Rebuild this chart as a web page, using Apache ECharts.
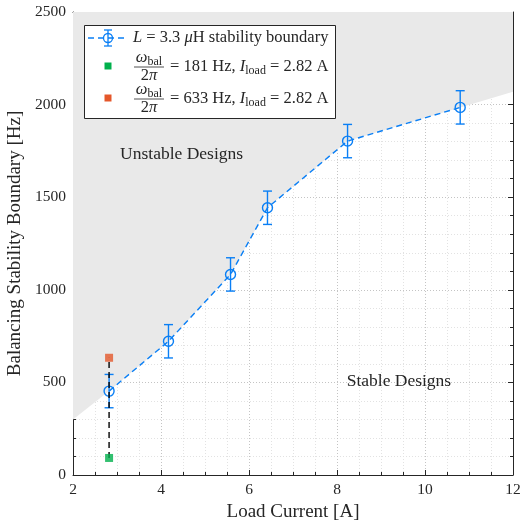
<!DOCTYPE html>
<html>
<head>
<meta charset="utf-8">
<script src="https://cdn.jsdelivr.net/npm/echarts@6.0.0/dist/echarts.min.js"></script>
<style>
  html, body { margin: 0; padding: 0; background: #fff; }
  #chart { width: 520px; height: 522px; }
</style>
</head>
<body>
<div id="chart"></div>
<script>
// measured boundary, L = 3.3 uH
var currentA = [2.82, 4.17, 5.58, 6.42, 8.24, 10.80];
var boundaryHz = [453, 722, 1083, 1443, 1803, 1985];
var errHz = [90, 90, 90, 90, 90, 90];

// shaded "unstable" region edge (extended to the axis limits)
var shadeX = [2, 2.82, 4.17, 5.58, 6.42, 8.24, 10.80, 12];
var shadeY = [300, 453, 722, 1083, 1443, 1803, 1985, 2070];

// the two test designs at I_load = 2.82 A
var testX = [2.82, 2.82];
var testHz = [92, 633];

var xTicks = [2, 4, 6, 8, 10, 12];
var yTicks = [0, 500, 1000, 1500, 2000, 2500];

var FONT = 'Liberation Serif';
var BLUE = '#0a7ff5';
var INK = '#262626';

var chart = echarts.init(document.getElementById('chart'));

var lineData = currentA.map(function (x, i) { return [x, boundaryHz[i]]; });
var errData = currentA.map(function (x, i) { return [x, boundaryHz[i], errHz[i]]; });
var shadeData = shadeX.map(function (x, i) { return [x, shadeY[i]]; });

function axisBase() {
  return {
    type: 'value',
    axisLine: { show: true, onZero: false, lineStyle: { color: INK, width: 1 } },
    axisTick: { show: true, inside: true, length: 5, lineStyle: { color: INK } },
    minorTick: { show: true, length: 3, lineStyle: { color: INK } },
    splitLine: { show: false },
    minorSplitLine: { show: false },
    axisLabel: { show: false }
  };
}

var xBottom = Object.assign(axisBase(), {
  position: 'bottom', min: xTicks[0], max: xTicks[xTicks.length - 1], interval: 2,
  minorTick: { show: true, splitNumber: 4, length: 3, lineStyle: { color: INK } },
  splitLine: { show: true, lineStyle: { color: '#c4c4c4', type: [1, 2] } },
  minorSplitLine: { show: true, lineStyle: { color: '#e2e2e2', type: [1, 2] } },
  axisLabel: { show: true, margin: 7, color: INK, fontFamily: FONT, fontSize: 15.5 },
  name: 'Load Current [A]', nameLocation: 'middle', nameGap: 25,
  nameTextStyle: { color: INK, fontFamily: FONT, fontSize: 19 }
});
var xTop = Object.assign(axisBase(), {
  position: 'top', min: 2, max: 12, interval: 2,
  minorTick: { show: true, splitNumber: 4, length: 3, lineStyle: { color: INK } }
});
var yLeft = Object.assign(axisBase(), {
  position: 'left', min: yTicks[0], max: yTicks[yTicks.length - 1], interval: 500,
  minorTick: { show: true, splitNumber: 5, length: 3, lineStyle: { color: INK } },
  splitLine: { show: true, lineStyle: { color: '#c4c4c4', type: [1, 2] } },
  minorSplitLine: { show: true, lineStyle: { color: '#e2e2e2', type: [1, 2] } },
  axisLabel: {
    show: true, margin: 7, color: INK, fontFamily: FONT, fontSize: 15.5,
    formatter: function (v) { return String(v); }
  },
  name: 'Balancing Stability Boundary [Hz]', nameLocation: 'middle', nameGap: 47,
  nameTextStyle: { color: INK, fontFamily: FONT, fontSize: 19 }
});
var yRight = Object.assign(axisBase(), {
  position: 'right', min: 0, max: 2500, interval: 500,
  minorTick: { show: true, splitNumber: 5, length: 3, lineStyle: { color: INK } }
});

// legend drawn by hand (fraction labels)
var txt = { fontFamily: FONT, fontSize: 16.5, fill: INK };
var rich = {
  it: { fontFamily: FONT, fontSize: 16.5, fontStyle: 'italic', color: INK, lineHeight: 20, verticalAlign: 'middle' },
  sub: { fontFamily: FONT, fontSize: 12, color: INK, lineHeight: 11, verticalAlign: 'bottom' },
  n: { fontFamily: FONT, fontSize: 16.5, color: INK, lineHeight: 20, verticalAlign: 'middle' }
};
function t(x, y, text, align) {
  return {
    type: 'text', x: x, y: y, z: 20,
    style: Object.assign({}, txt, { text: text, rich: rich, align: align || 'left', verticalAlign: 'middle' })
  };
}
function fracRow(cy, label, color) {
  return [
    { type: 'rect', z: 20, shape: { x: 104.5, y: cy - 4, width: 7, height: 7 }, style: { fill: color } },
    t(149, cy - 9, '{it|ω}{sub|bal}', 'center'),
    { type: 'line', z: 20, shape: { x1: 134, y1: cy + 0.5, x2: 164, y2: cy + 0.5 }, style: { stroke: INK, lineWidth: 0.8 } },
    t(149, cy + 9.5, '{n|2}{it|π}', 'center'),
    t(170, cy, label)
  ];
}
var legendEls = [
  { type: 'rect', z: 19, shape: { x: 84.5, y: 25.5, width: 251, height: 93 }, style: { fill: '#fff', stroke: INK, lineWidth: 1 } },
  { type: 'line', z: 20, shape: { x1: 88, y1: 38, x2: 128, y2: 38 }, style: { stroke: BLUE, lineWidth: 1.3, lineDash: [6, 4] } },
  { type: 'line', z: 20, shape: { x1: 108, y1: 30, x2: 108, y2: 46 }, style: { stroke: BLUE, lineWidth: 1.3 } },
  { type: 'line', z: 20, shape: { x1: 104, y1: 30, x2: 112, y2: 30 }, style: { stroke: BLUE, lineWidth: 1.3 } },
  { type: 'line', z: 20, shape: { x1: 104, y1: 46, x2: 112, y2: 46 }, style: { stroke: BLUE, lineWidth: 1.3 } },
  { type: 'circle', z: 20, shape: { cx: 108, cy: 38, r: 4.5 }, style: { fill: 'none', stroke: BLUE, lineWidth: 1.3 } },
  t(133, 38, '{it|L} = 3.3 {it|μ}H stability boundary')
].concat(
  fracRow(66.5, '= 181 Hz, {it|I}{sub|load} = 2.82 A', '#00b04c'),
  fracRow(98.5, '= 633 Hz, {it|I}{sub|load} = 2.82 A', '#e4572a')
);

var option = {
  animation: false,
  backgroundColor: '#fff',
  grid: { left: 73, right: 7, top: 12, bottom: 47, containLabel: false, outerBoundsMode: 'none' },
  xAxis: [xBottom, xTop],
  yAxis: [yLeft, yRight],
  graphic: { elements: legendEls },
  series: [
    {
      name: 'unstable',
      type: 'line',
      data: shadeData,
      symbol: 'none',
      lineStyle: { width: 0 },
      areaStyle: { origin: 'end', color: '#e9e9e9', opacity: 1 },
      z: 2,
      silent: true
    },
    {
      name: 'region labels',
      type: 'scatter',
      data: [],
      z: 3,
      markPoint: {
        symbol: 'circle', symbolSize: 0,
        label: { show: true, position: 'right', distance: 0, color: INK, fontFamily: FONT, fontSize: 17.5, formatter: '{b}' },
        data: [
          { name: 'Unstable Designs', coord: [3.07, 1730] },
          { name: 'Stable Designs', coord: [8.22, 508] }
        ]
      }
    },
    {
      name: 'errors',
      type: 'custom',
      data: errData,
      encode: { x: 0, y: 1 },
      z: 4,
      renderItem: function (params, api) {
        var x = api.value(0), y = api.value(1), e = api.value(2);
        var top = api.coord([x, y + e]);
        var bot = api.coord([x, y - e]);
        var hw = 4.5;
        var st = { stroke: BLUE, lineWidth: 1.4 };
        return {
          type: 'group',
          children: [
            { type: 'line', shape: { x1: top[0], y1: top[1], x2: bot[0], y2: bot[1] }, style: st },
            { type: 'line', shape: { x1: top[0] - hw, y1: top[1], x2: top[0] + hw, y2: top[1] }, style: st },
            { type: 'line', shape: { x1: bot[0] - hw, y1: bot[1], x2: bot[0] + hw, y2: bot[1] }, style: st }
          ]
        };
      }
    },
    {
      name: 'boundary',
      type: 'line',
      data: lineData,
      z: 5,
      symbol: 'circle',
      symbolSize: 10,
      itemStyle: { color: 'rgba(0,0,0,0)', borderColor: BLUE, borderWidth: 1.4 },
      lineStyle: { color: BLUE, width: 1.4, type: [6, 4] }
    },
    {
      name: 'test line',
      type: 'line',
      data: testX.map(function (x, i) { return [x, testHz[i]]; }),
      symbol: 'none',
      z: 6,
      lineStyle: { color: '#000', width: 1.4, type: [6, 4] }
    },
    {
      name: 'test 181',
      type: 'scatter',
      data: [[testX[0], testHz[0]]],
      symbol: 'rect',
      symbolSize: 8,
      z: 7,
      itemStyle: { color: '#00b04c' }
    },
    {
      name: 'test 633',
      type: 'scatter',
      data: [[testX[1], testHz[1]]],
      symbol: 'rect',
      symbolSize: 8,
      z: 7,
      itemStyle: { color: '#e4572a' }
    }
  ]
};

chart.setOption(option);
</script>
</body>
</html>
